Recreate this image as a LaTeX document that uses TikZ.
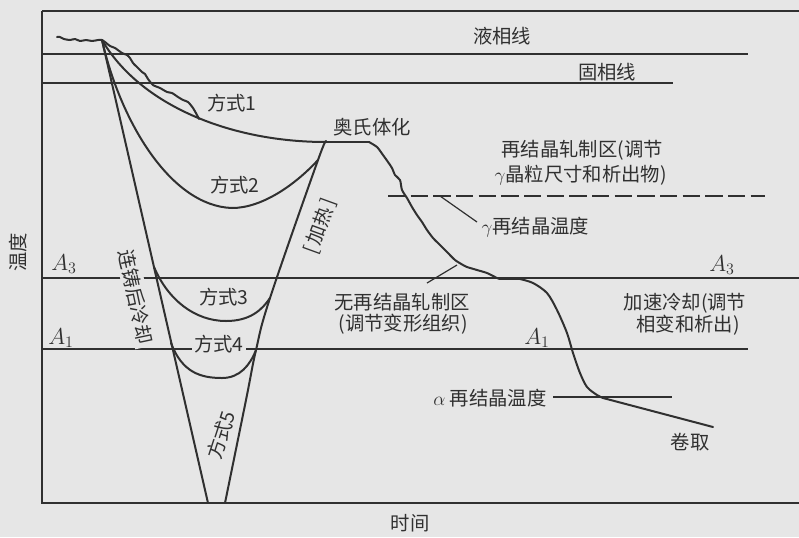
\documentclass[tikz,border=0pt]{standalone}
\usepackage{fontspec}
\setmainfont{Noto Sans CJK SC}
\definecolor{bg}{RGB}{230,230,230}
\definecolor{ink}{RGB}{48,48,48}
\tikzset{
  thin line/.style={draw=ink, line width=0.9pt},
  curve/.style={draw=ink, line width=1.5pt, line join=round, line cap=round},
  lbl/.style={text=ink, font=\fontsize{14.5}{17}\selectfont, inner sep=1pt},
  mlbl/.style={text=ink, font=\fontsize{17}{19}\selectfont, inner sep=1pt},
  cutlbl/.style={lbl, fill=bg, inner sep=2pt},
  dashline/.style={draw=ink, line width=0.9pt, dash pattern=on 13pt off 4pt}
}
\begin{document}
\begin{tikzpicture}[x=0.75pt,y=-0.75pt]
\useasboundingbox (0,0) rectangle (799,537);
\fill[bg] (0,0) rectangle (799,537);

% frame and reference lines
\coordinate (TL) at (42,11);
\coordinate (TR) at (799,11);
\coordinate (BL) at (42,503);
\coordinate (BR) at (799,503);
\coordinate (L1a) at (42,54);  \coordinate (L1b) at (748,54);
\coordinate (L2a) at (42,83);  \coordinate (L2b) at (673,83);
\coordinate (A3a) at (42,278); \coordinate (A3b) at (799,278);
\coordinate (A1a) at (42,349); \coordinate (A1b) at (748,349);
\coordinate (G1) at (388,196); \coordinate (G2) at (765,196);
\coordinate (Al1) at (553,397); \coordinate (Al2) at (672,397);

\draw[thin line] (TL) -- (TR);
\draw[thin line] (TL) -- (BL) -- (BR);
\draw[thin line] (L1a) -- (L1b);
\draw[thin line] (L2a) -- (L2b);
\draw[thin line] (A3a) -- (A3b);
\draw[thin line] (A1a) -- (A1b);
\draw[dashline] (G1) -- (G2);
\draw[thin line] (Al1) -- (Al2);

% labels that interrupt lines
\node[cutlbl, rotate=-78] (lzlq) at (136,297) {连铸后冷却};
\node[cutlbl] (fs4) at (219,344) {方式4};

% key points
\coordinate (W0) at (57,37);
\coordinate (P0) at (102,40);
\coordinate (J1) at (199,119);
\coordinate (AS) at (326,142);
\coordinate (AE) at (369,142);
\coordinate (LF) at (208,503);
\coordinate (RF) at (225,503);
\coordinate (M2) at (232,208);
\coordinate (R2) at (318,160);
\coordinate (S3) at (154,267);
\coordinate (M3) at (226,321);
\coordinate (R3) at (270,298);
\coordinate (S4) at (171,343);
\coordinate (M4) at (222,378);
\coordinate (R4) at (256,350);
\coordinate (F1) at (500,279);
\coordinate (F0) at (520,279);
\coordinate (K) at (603,398);
\coordinate (CE) at (713,427);

% casting / wavy lines
\draw[curve] plot[smooth, tension=0.5] coordinates {(W0) (60,37) (64,39) (70,40) (75,39) (80,41) (86,40) (92,41) (98,40) (P0)};
\draw[curve] plot[smooth, tension=0.4] coordinates {(P0) (105,42) (110,46) (115,48) (122,53) (127,55) (130,58) (133,63) (138,68) (142,72) (145,74) (148,79) (153,85) (160,88) (167,92) (172,93) (178,97) (183,100) (188,102) (193,108) (197,115) (J1)};

% mode curves
\draw[curve] (P0) .. controls (140,105) and (230,142) .. (AS);
\draw[curve] (AS) -- (AE);
\draw[curve] (P0) .. controls (120,120) and (170,206) .. (M2) .. controls (262,208) and (295,185) .. (R2);
\draw[curve] (P0) -- (LF);
\draw[curve] plot[smooth, tension=0.6] coordinates {(RF) (246,400) (R4) (R3) (R2) (AS)};
\draw[curve] (S3) .. controls (168,300) and (195,321) .. (M3) .. controls (250,321) and (262,310) .. (R3);
\draw[curve] (S4) .. controls (182,372) and (200,378) .. (M4) .. controls (240,378) and (250,365) .. (R4);

% rolling path
\draw[curve] plot[smooth, tension=0.4] coordinates {(AE) (377,147) (383,155) (388,162) (392,168) (395,175) (400,180) (402,190) (407,198) (412,207) (417,215) (422,222) (427,230) (433,238) (440,245) (447,252) (455,260) (463,265) (467,267) (477,270) (487,273) (497,278) (F1)};
\draw[curve] (F1) -- (F0);
\draw[curve] plot[smooth, tension=0.5] coordinates {(F0) (533,283) (547,293) (557,310) (567,333) (573,353) (580,373) (587,387) (597,395) (K)};
\draw[curve] (K) -- (CE);

% leaders
\coordinate (gl1) at (440,196); \coordinate (gl2) at (477,222);
\draw[thin line] (gl1) -- (gl2);
\coordinate (nl1) at (457,265); \coordinate (nl2) at (427,283);
\draw[thin line] (nl1) -- (nl2);

% labels
\node[lbl] (yx) at (502,36) {液相线};
\node[lbl] (gx) at (607,72) {固相线};
\node[lbl] (fs1) at (232,103) {方式1};
\node[lbl] (ast) at (372,127) {奥氏体化};
\node[lbl, anchor=west] (zj1) at (500,150) {再结晶轧制区(调节};
\node[lbl, anchor=west] (zj2) at (493,175) {$\gamma$晶粒尺寸和析出物)};
\node[lbl] (fs2) at (235,185) {方式2};
\node[lbl, anchor=west] (gw) at (480,227) {$\gamma$再结晶温度};
\node[lbl, rotate=70] (jr) at (320,226) {[\,加热\,]};
\node[lbl] (fs3) at (224,297) {方式3};
\node[mlbl] (a3l) at (64,264) {$A_3$};
\node[mlbl] (a3r) at (722,265) {$A_3$};
\node[mlbl] (a1l) at (61,338) {$A_1$};
\node[mlbl] (a1m) at (537,338) {$A_1$};
\node[lbl] (wz1) at (402,302) {无再结晶轧制区};
\node[lbl] (wz2) at (403,324) {(调节变形组织)};
\node[lbl] (js1) at (685,303) {加速冷却(调节};
\node[lbl] (js2) at (688,325) {相变和析出)};
\node[lbl, anchor=east] (aw) at (548,398) {$\alpha$ 再结晶温度};
\node[lbl] (jq) at (690,442) {卷取};
\node[lbl, rotate=72] (fs5) at (221,435) {方式5};
\node[lbl, rotate=90] (wd) at (18,252) {温度};
\node[lbl] (sj) at (410,523) {时间};
\end{tikzpicture}
\end{document}
